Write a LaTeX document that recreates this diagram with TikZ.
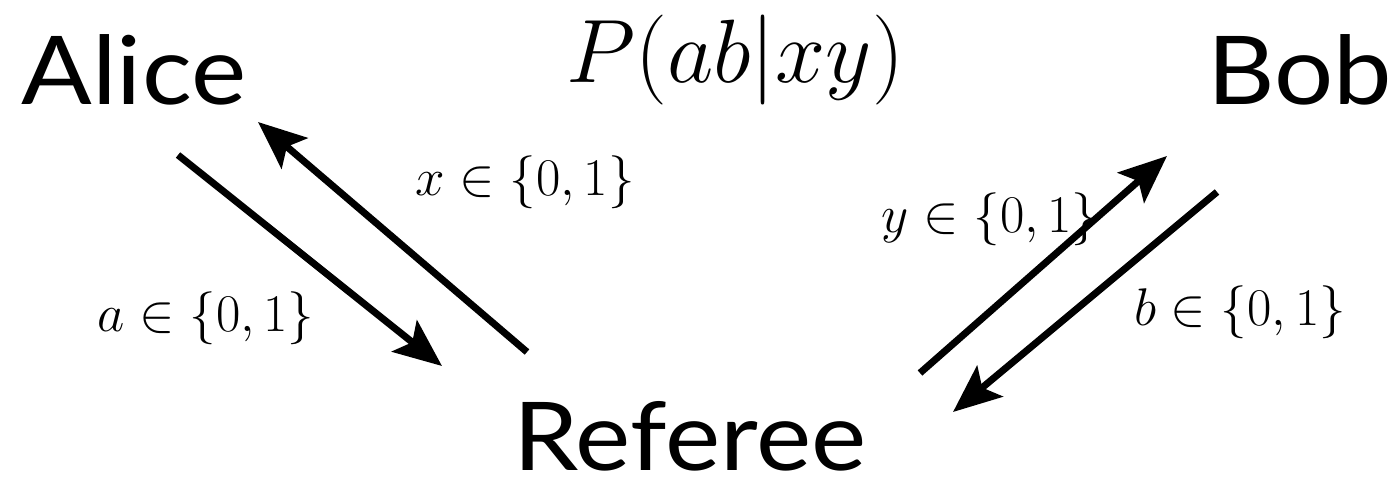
\RequirePackage{fix-cm}
\documentclass[tikz,border=0pt]{standalone}
\usepackage{fontspec}
\newfontfamily\namefont{Lato}
\usetikzlibrary{arrows.meta}
\newcommand{\wname}[1]{\scalebox{1.1}[1]{#1}}
\tikzset{
  who/.style={inner sep=0pt, anchor=base, font=\namefont\fontsize{95}{100}\selectfont},
  lab/.style={inner sep=0pt, font=\fontsize{53}{60}\selectfont},
  msg/.style={line width=7pt, -{Stealth[length=48pt,width=40pt,inset=10pt]}}
}
\begin{document}
\begin{tikzpicture}[x=1pt,y=-1pt]
\useasboundingbox (0,0) rectangle (1397,492);
\node[who] (alice) at (134,105) {\wname{Alice}};
\node[who] (bob) at (1300,105) {\wname{Bob}};
\node[who] (ref) at (690,470) {\wname{Referee}};
\node[inner sep=0pt, font=\fontsize{90}{96}\selectfont] (p) at (735,60) {$P(ab|xy)$};
\coordinate (a1) at (178,155);
\coordinate (a2) at (442,366);
\coordinate (x1) at (527,352);
\coordinate (x2) at (258,122);
\coordinate (y1) at (920,373);
\coordinate (y2) at (1167,156);
\coordinate (b1) at (1217,192);
\coordinate (b2) at (953,412);
\draw[msg] (a1) -- (a2);
\draw[msg] (x1) -- (x2);
\draw[msg] (y1) -- (y2);
\draw[msg] (b1) -- (b2);
\node[lab] (xl) at (525,182) {$x\in\{0,1\}$};
\node[lab] (al) at (206,318) {$a\in\{0,1\}$};
\node[lab] (yl) at (990,219) {$y\in\{0,1\}$};
\node[lab] (bl) at (1240,312) {$b\in\{0,1\}$};
\end{tikzpicture}
\end{document}
